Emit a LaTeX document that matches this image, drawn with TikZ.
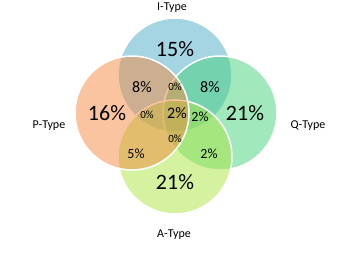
\documentclass[tikz,border=0pt]{standalone}
\usepackage{fontspec}
\setmainfont{Carlito}
\definecolor{vennblue}{RGB}{75,171,197}
\definecolor{vennorange}{RGB}{243,137,63}
\definecolor{venngreen}{RGB}{69,209,123}
\definecolor{vennlime}{RGB}{169,229,65}
\usetikzlibrary{positioning}

\begin{document}
\begin{tikzpicture}[x=1pt,y=-1pt,
  venn/.style={circle,draw=white,line width=1.5pt,fill opacity=0.5,minimum size=114pt,inner sep=0pt},
  typelabel/.style={font=\fontsize{12}{14}\selectfont},
  bigpct/.style={font=\fontsize{22}{26}\selectfont},
  midpct/.style={font=\fontsize{16}{19}\selectfont},
  smallpct/.style={font=\fontsize{14}{17}\selectfont},
  tinypct/.style={font=\fontsize{11}{13}\selectfont}]
  \useasboundingbox (0,0) rectangle (349,257);
  % Circles
  \node[venn,fill=vennblue] (icirc) at (175,75) {};
  \node[venn,fill=venngreen] (qcirc) at (220,113) {};
  \node[venn,fill=vennlime] (acirc) at (175,157) {};
  \node[venn,fill=vennorange] (pcirc) at (132,113) {};
  % Type labels
  \node[typelabel] (ilab) at (172,8) {I-Type};
  \node[typelabel] (plab) at (49,126) {P-Type};
  \node[typelabel] (qlab) at (308,126) {Q-Type};
  \node[typelabel] (alab) at (174,235) {A-Type};
  % Single sets
  \node[bigpct] (ionly) at (175,49) {15\%};
  \node[bigpct] (ponly) at (107,113) {16\%};
  \node[bigpct] (qonly) at (245,113) {21\%};
  \node[bigpct] (aonly) at (175,182) {21\%};
  % Overlaps
  \node[midpct] (ip) at (142,87) {8\%};
  \node[midpct] (iq) at (210,87) {8\%};
  \node[tinypct] (ipq) at (175,87) {0\%};
  \node[tinypct] (ipa) at (147,115) {0\%};
  \node[midpct] (ipqa) at (177,113) {2\%};
  \node[smallpct] (iqa) at (200,117) {2\%};
  \node[tinypct] (pqa) at (175,139) {0\%};
  \node[smallpct] (pa) at (136,154) {5\%};
  \node[smallpct] (qa) at (209,154) {2\%};
\end{tikzpicture}
\end{document}
